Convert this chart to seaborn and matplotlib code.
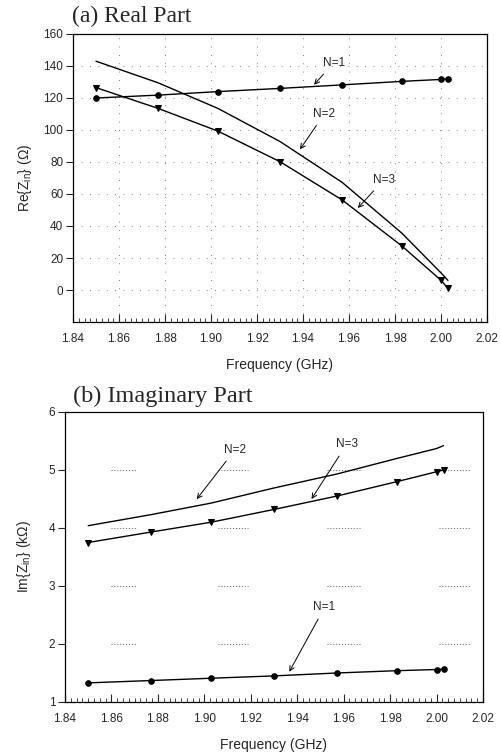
import numpy as np
import pandas as pd
import matplotlib
matplotlib.use("Agg")
import matplotlib.pyplot as plt
from matplotlib.ticker import MultipleLocator
import seaborn as sns

# ---- data ----
freq = [1.850, 1.877, 1.903, 1.930, 1.957, 1.983, 2.000, 2.003]
re_n1 = [120.0, 121.8, 124.0, 126.0, 128.2, 130.4, 131.6, 132.0]
re_n2 = [143.0, 129.5, 113.5, 92.8, 67.3, 35.5, 10.7, 6.0]
re_n3 = [126.5, 113.5, 99.3, 80.2, 56.3, 27.5, 6.1, 1.0]
im_n1 = [1.33, 1.37, 1.41, 1.45, 1.50, 1.54, 1.56, 1.565]
im_n2 = [4.04, 4.23, 4.43, 4.69, 4.93, 5.20, 5.37, 5.42]
im_n3 = [3.75, 3.93, 4.10, 4.32, 4.55, 4.80, 4.97, 5.00]

xticks = [1.84, 1.86, 1.88, 1.90, 1.92, 1.94, 1.96, 1.98, 2.00, 2.02]
re_yticks = [0, 20, 40, 60, 80, 100, 120, 140, 160]
im_yticks = [1, 2, 3, 4, 5, 6]

sns.set_style("white")
plt.rcParams['font.family'] = ['Liberation Sans', 'DejaVu Sans']
plt.rcParams['mathtext.fontset'] = 'custom'
plt.rcParams['mathtext.rm'] = 'Liberation Sans'
plt.rcParams['mathtext.it'] = 'Liberation Sans'

fig = plt.figure(figsize=(5.01, 7.55), dpi=100)
ax1 = fig.add_axes([73/501, 1-322/755, 414/501, 288/755])
ax2 = fig.add_axes([65/501, 1-702/755, 418/501, 290/755])

def series(ax, y, marker, ms):
    df = pd.DataFrame({"f": freq, "v": y})
    sns.lineplot(data=df, x="f", y="v", ax=ax, color="black", linewidth=1.0,
                 marker=marker, markersize=ms, markeredgecolor="black",
                 markerfacecolor="black", sort=True, legend=False)

# --- top panel ---
series(ax1, re_n1, "o", 4)
series(ax1, re_n2, None, 0)
series(ax1, re_n3, "v", 4.5)
ax1.set_xlim(1.84, 2.02)
ax1.set_ylim(-20, 160)
ax1.set_yticks(re_yticks)
ax1.set_xticks(xticks)
ax1.set_xticklabels([f"{t:.2f}" for t in xticks])
ax1.xaxis.set_minor_locator(MultipleLocator(0.0025))
ax1.grid(True, which='major', color='0.35', linestyle=(0, (1, 9)), linewidth=0.6)
ax1.set_xlabel("Frequency (GHz)", fontsize=10, labelpad=9)
ax1.set_ylabel(r"Re{Z$_{\mathrm{in}}$} ($\Omega$)", fontsize=10, labelpad=7)

ann = dict(arrowstyle="->", color="black", lw=0.7)
ax1.annotate("N=1", xy=(1.944, 127), xytext=(1.9485, 142), fontsize=8.5,
             arrowprops=ann, ha="left", va="center")
ax1.annotate("N=2", xy=(1.938, 86.5), xytext=(1.9445, 110), fontsize=8.5,
             arrowprops=ann, ha="left", va="center")
ax1.annotate("N=3", xy=(1.963, 50), xytext=(1.9705, 69), fontsize=8.5,
             arrowprops=ann, ha="left", va="center")

# --- bottom panel ---
series(ax2, im_n1, "o", 4)
series(ax2, im_n2, None, 0)
series(ax2, im_n3, "v", 4.5)
ax2.set_xlim(1.84, 2.02)
ax2.set_ylim(1, 6)
ax2.set_yticks(im_yticks)
ax2.set_xticks(xticks)
ax2.set_xticklabels([f"{t:.2f}" for t in xticks])
ax2.xaxis.set_minor_locator(MultipleLocator(0.0025))
segs = [(1.860, 1.871), (1.906, 1.919), (1.953, 1.967), (2.001, 2.0145)]
for yv in [2, 3, 4, 5]:
    for a, b in segs:
        ax2.hlines(yv, a, b, color='0.35', linestyle=(0, (1, 2)), linewidth=0.7, zorder=0)
ax2.set_xlabel("Frequency (GHz)", fontsize=10, labelpad=9)
ax2.set_ylabel(r"Im{Z$_{\mathrm{in}}$} (k$\Omega$)", fontsize=10, labelpad=11)

ax2.annotate("N=2", xy=(1.896, 4.46), xytext=(1.9085, 5.35), fontsize=8.5,
             arrowprops=ann, ha="left", va="center")
ax2.annotate("N=3", xy=(1.9455, 4.46), xytext=(1.9565, 5.44), fontsize=8.5,
             arrowprops=ann, ha="left", va="center")
ax2.annotate("N=1", xy=(1.936, 1.48), xytext=(1.947, 2.63), fontsize=8.5,
             arrowprops=ann, ha="left", va="center")

for ax in (ax1, ax2):
    for s in ax.spines.values():
        s.set_visible(True)
        s.set_color("black")
        s.set_linewidth(0.9)
    ax.tick_params(axis='x', which='major', direction='in', length=6, width=0.8,
                   labelsize=8.5, pad=8, bottom=True)
    ax.tick_params(axis='x', which='minor', direction='in', length=3, width=0.6, bottom=True)
    ax.tick_params(axis='y', which='major', direction='out', length=5, width=0.8,
                   labelsize=8.5, pad=2, left=True)

fig.text(72/501, 1-22/755, "(a) Real Part", fontsize=17,
         family=['Liberation Serif', 'DejaVu Serif'], ha="left", va="baseline")
fig.text(73/501, 1-402/755, "(b) Imaginary Part", fontsize=17.5,
         family=['Liberation Serif', 'DejaVu Serif'], ha="left", va="baseline")

fig.savefig("out.png", dpi=100)
